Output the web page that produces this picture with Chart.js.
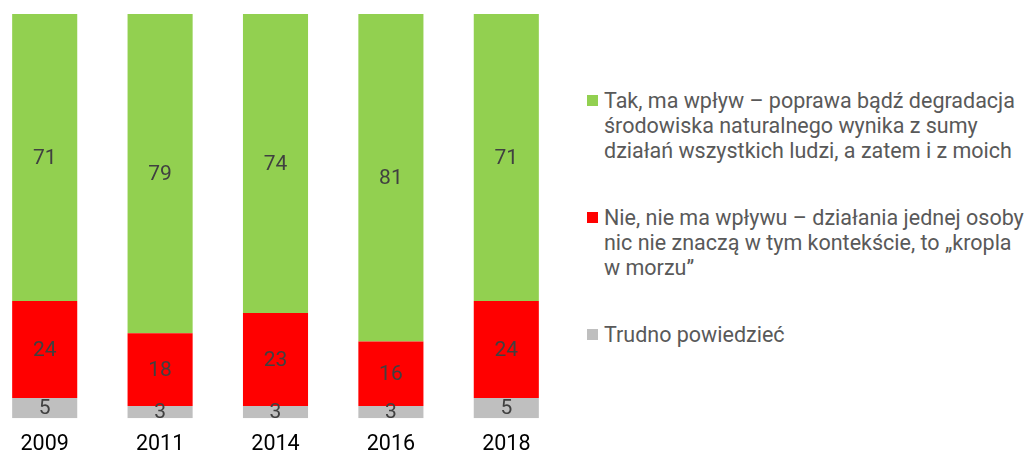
<!DOCTYPE html>
<html>
<head>
<meta charset="utf-8">
<script src="https://cdn.jsdelivr.net/npm/chart.js@4/dist/chart.umd.min.js"></script>
<style>
  html, body { margin: 0; padding: 0; background: #fff; }
  body { width: 1024px; height: 454px; position: relative; overflow: hidden; font-family: Roboto, sans-serif; }
  #surveyChart { position: absolute; left: -13px; top: 0; }
  #legend { position: absolute; left: 587px; top: 88px; color: #595959; font-size: 21.5px; line-height: 25px; }
  .item { position: relative; padding-left: 17px; margin-bottom: 42px; white-space: nowrap; }
  .item .box { position: absolute; left: 0; top: 7px; width: 11px; height: 11px; }
</style>
</head>
<body>
<canvas id="surveyChart" width="577" height="472"></canvas>
<div id="legend"></div>
<script>
// --- Data: ---
const years = ['2009', '2011', '2014', '2016', '2018'];
const takValues = [71, 79, 74, 81, 71];
const nieValues = [24, 18, 23, 16, 24];
const trudnoValues = [5, 3, 3, 3, 5];
const seriesLabels = [
  ['Tak, ma wpływ – poprawa bądź degradacja', 'środowiska naturalnego wynika z sumy', 'działań wszystkich ludzi, a zatem i z moich'],
  ['Nie, nie ma wpływu – działania jednej osoby', 'nic nie znaczą w tym kontekście, to „kropla', 'w morzu”'],
  ['Trudno powiedzieć']
];
const seriesColors = ['#92D050', '#FF0000', '#BFBFBF'];

// draws the number in the middle of each bar piece
const valueLabels = {
  id: 'valueLabels',
  afterDatasetsDraw(chart) {
    const ctx = chart.ctx;
    ctx.save();
    ctx.font = '21px Roboto';
    ctx.fillStyle = '#404040';
    ctx.textAlign = 'center';
    ctx.textBaseline = 'middle';
    chart.data.datasets.forEach((ds, i) => {
      chart.getDatasetMeta(i).data.forEach((bar, j) => {
        const mid = (bar.y + bar.base) / 2;
        ctx.fillText(ds.data[j], bar.x, mid + 1);
      });
    });
    ctx.restore();
  }
};

const createSurveyChart = () => {
  const ctx = document.querySelector('#surveyChart').getContext('2d');
  new Chart(ctx, {
    type: 'bar',
    data: {
      labels: years,
      datasets: [
        { label: seriesLabels[2].join(' '), data: trudnoValues, backgroundColor: seriesColors[2] },
        { label: seriesLabels[1].join(' '), data: nieValues, backgroundColor: seriesColors[1] },
        { label: seriesLabels[0].join(' '), data: takValues, backgroundColor: seriesColors[0] }
      ]
    },
    options: {
      responsive: false,
      animation: false,
      datasets: { bar: { barPercentage: 0.564, categoryPercentage: 1, borderWidth: 0 } },
      layout: { padding: { top: 14, bottom: 0, left: 0, right: 0 } },
      plugins: { legend: { display: false }, tooltip: { enabled: false } },
      scales: {
        x: {
          stacked: true,
          grid: { display: false, drawTicks: false },
          border: { display: false },
          ticks: { color: '#000', padding: 14, font: { family: 'Roboto', size: 21.5 } }
        },
        y: { stacked: true, display: false, min: 0, max: 100 }
      }
    },
    plugins: [valueLabels]
  });
};

// html legend, top item first like the original
const createLegend = () => {
  const box = document.querySelector('#legend');
  seriesLabels.forEach((lines, i) => {
    const item = document.createElement('div');
    item.className = 'item';
    item.innerHTML = '<span class="box" style="background:' + seriesColors[i] + '"></span>' + lines.join('<br>');
    box.appendChild(item);
  });
};

createSurveyChart();
createLegend();
</script>
</body>
</html>
